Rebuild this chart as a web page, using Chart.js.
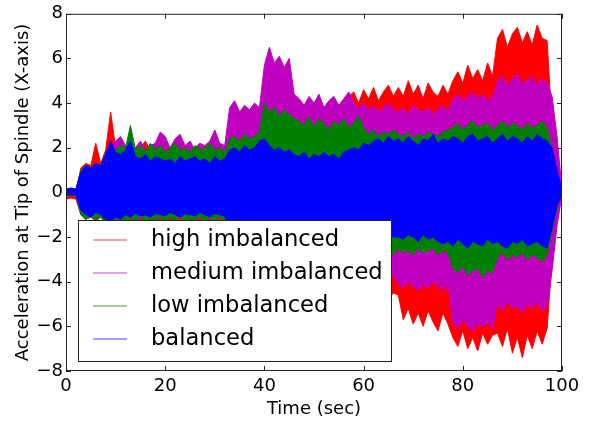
<!DOCTYPE html>
<html>
<head>
<meta charset="utf-8">
<script src="https://cdn.jsdelivr.net/npm/chart.js@4/dist/chart.umd.min.js"></script>
<style>
html, body { margin: 0; padding: 0; background: #fff; }
canvas { display: block; }
</style>
</head>
<body>
<canvas id="myChart" width="591" height="423"></canvas>
<script>
const seriesNames = ["high imbalanced", "medium imbalanced", "low imbalanced", "balanced"];
const seriesColors = ["#ff0000", "#bf00bf", "#008000", "#0000ff"];
const xTicks = [0, 20, 40, 60, 80, 100];
const yTicks = [-8, -6, -4, -2, 0, 2, 4, 6, 8];

// one envelope sample per second, 0..100 s
const time = Array.from({ length: 101 }, (_, i) => i);

// peak (upper) and trough (lower) of each signal
const highUpper = [
  0.0, 0.05, 0.0, 1.1, 1.3, 1.2, 2.2, 1.3, 1.9, 3.6,
  2.0, 2.1, 1.9, 2.2, 1.8, 2.0, 2.3, 1.9, 2.0, 1.8,
  2.1, 1.9, 2.0, 1.8, 2.1, 1.9, 2.0, 2.2, 1.8, 2.0,
  1.9, 2.1, 1.9, 3.3, 3.6, 3.4, 3.5, 3.3, 3.6, 3.4,
  3.8, 4.0, 3.7, 3.9, 3.8, 3.6, 3.9, 3.7, 3.5, 3.8,
  3.6, 3.7, 3.5, 3.8, 3.6, 3.9, 4.0, 4.3, 4.5, 4.0,
  4.6, 4.2, 4.7, 4.1, 4.5, 4.8, 4.3, 4.7, 4.3, 5.0,
  4.4, 4.8, 4.2, 4.9, 4.5, 4.3, 4.8, 4.4, 5.0, 5.4,
  4.9, 5.7, 5.1, 5.5, 5.0, 5.8, 5.2, 6.9, 7.3, 6.5,
  7.1, 7.4, 6.7, 7.2, 6.6, 7.5, 6.9, 6.8, 3.0, 0.8,
  0.1
];
const highLower = [
  -0.3, -0.25, -0.3, -1.0, -1.2, -1.1, -1.3, -1.1, -1.1, -1.4,
  -1.05, -1.3, -1.1, -1.45, -1.0, -1.35, -1.1, -1.4, -1.05, -1.3,
  -1.15, -1.4, -1.0, -1.35, -1.1, -1.3, -1.05, -1.4, -1.1, -1.35,
  -1.0, -1.3, -1.1, -3.4, -3.7, -3.5, -3.6, -3.4, -3.7, -3.5,
  -3.9, -4.0, -3.8, -4.1, -3.9, -3.7, -4.0, -3.8, -3.6, -3.9,
  -3.7, -3.8, -3.6, -3.9, -3.7, -4.0, -4.1, -4.3, -4.5, -4.2,
  -4.6, -4.4, -4.7, -4.3, -4.6, -4.8, -4.5, -4.6, -5.7, -5.2,
  -5.9, -5.4, -6.0, -5.3, -5.8, -6.2, -5.4, -5.9, -6.5, -6.9,
  -6.2, -7.0, -6.5, -7.1, -6.3, -6.8, -6.4, -6.3, -6.9, -6.1,
  -7.2, -6.5, -7.4, -6.4, -7.0, -6.2, -6.8, -6.1, -3.0, -0.8,
  -0.1
];
const mediumUpper = [
  0.1, 0.1, 0.1, 1.0, 1.2, 1.1, 1.2, 1.1, 1.8, 2.0,
  2.3, 2.5, 2.1, 2.2, 2.0, 2.3, 1.9, 2.1, 2.2, 2.7,
  2.5, 2.0, 2.4, 2.6, 2.1, 2.3, 1.9, 2.2, 2.1, 2.3,
  2.8, 2.2, 2.1, 3.8, 4.1, 3.6, 3.9, 3.7, 4.0, 3.8,
  5.7, 6.5, 5.8, 6.1, 5.6, 6.0, 4.4, 4.2, 3.9, 4.3,
  4.0, 4.4, 3.8, 4.1, 4.3, 3.9, 4.2, 4.5, 4.0, 3.8,
  4.0, 3.7, 3.9, 3.6, 3.8, 4.0, 3.7, 3.6, 3.8, 3.5,
  3.9, 3.7, 3.6, 3.8, 3.5, 3.7, 3.9, 3.6, 4.2, 4.4,
  4.1, 4.3, 4.5, 4.2, 4.4, 4.1, 4.3, 5.0, 5.2, 4.8,
  5.1, 5.3, 4.9, 5.0, 5.2, 4.8, 5.1, 4.9, 4.3, 2.5,
  0.1
];
const mediumLower = [
  -0.1, -0.1, -0.1, -1.0, -1.2, -1.1, -1.2, -1.1, -1.3, -1.05,
  -1.4, -1.1, -1.3, -1.0, -1.45, -1.1, -1.35, -1.05, -1.4, -1.1,
  -1.3, -1.05, -1.4, -1.0, -1.35, -1.1, -1.45, -1.05, -1.3, -1.1,
  -1.4, -1.05, -1.35, -3.7, -4.0, -3.6, -3.9, -3.8, -4.1, -3.7,
  -6.0, -6.3, -5.8, -6.1, -5.9, -6.2, -4.3, -4.1, -3.9, -4.2,
  -4.0, -4.3, -3.8, -4.1, -4.2, -3.9, -4.1, -4.3, -4.0, -3.8,
  -4.0, -3.7, -3.9, -3.6, -3.8, -3.9, -3.7, -4.1, -4.3, -4.0,
  -4.2, -4.4, -4.1, -4.3, -4.0, -4.2, -4.4, -4.1, -5.8, -6.1,
  -5.7, -6.0, -6.2, -5.9, -6.0, -5.8, -6.1, -5.0, -5.3, -4.9,
  -5.2, -5.1, -5.4, -5.0, -5.2, -4.9, -5.3, -5.1, -3.5, -1.5,
  -0.1
];
const lowUpper = [
  0.1, 0.15, 0.1, 1.0, 1.2, 1.1, 1.3, 1.2, 1.8, 2.0,
  1.9, 2.1, 2.0, 3.0, 1.9, 2.1, 1.8, 2.2, 1.9, 2.1,
  1.8, 2.0, 2.2, 1.9, 2.0, 1.8, 2.1, 1.9, 2.0, 2.2,
  1.9, 2.0, 1.8, 2.4, 2.5, 2.3, 2.6, 2.4, 2.5, 2.7,
  4.0, 3.6, 3.8, 3.4, 3.7, 3.5, 3.3, 3.2, 3.0, 3.4,
  2.9, 3.3, 3.1, 2.8, 3.2, 3.0, 3.3, 2.9, 3.1, 3.4,
  2.9, 2.6, 2.8, 2.5, 2.7, 2.6, 2.8, 2.6, 2.5, 2.7,
  2.4, 2.6, 2.5, 2.7, 2.6, 2.5, 2.7, 2.8, 2.9, 3.1,
  2.8, 3.0, 3.2, 2.9, 3.0, 3.1, 2.8, 3.0, 3.2, 2.9,
  3.1, 3.0, 2.8, 3.1, 2.9, 3.0, 3.2, 2.9, 2.0, 0.8,
  0.1
];
const lowLower = [
  -0.1, -0.15, -0.1, -1.0, -1.2, -1.1, -1.2, -1.1, -1.4, -1.1,
  -1.3, -1.05, -1.4, -1.1, -1.35, -1.0, -1.4, -1.15, -1.3, -1.05,
  -1.45, -1.1, -1.3, -1.0, -1.4, -1.15, -1.35, -1.05, -1.4, -1.1,
  -1.3, -1.05, -1.4, -2.5, -2.6, -2.4, -2.7, -2.5, -2.6, -2.8,
  -3.8, -3.5, -3.7, -3.4, -3.6, -3.5, -3.2, -3.0, -3.3, -2.9,
  -3.1, -3.2, -2.8, -3.1, -3.0, -3.2, -2.9, -3.1, -3.3, -2.9,
  -2.8, -2.7, -2.9, -2.6, -2.8, -2.7, -2.8, -2.5, -2.7, -2.6,
  -2.8, -2.5, -2.7, -2.6, -2.5, -2.8, -2.6, -2.7, -3.4, -3.6,
  -3.3, -3.7, -3.5, -3.4, -3.8, -3.5, -3.6, -2.9, -2.7, -3.0,
  -2.8, -2.9, -2.7, -3.0, -2.8, -2.9, -3.1, -2.8, -1.8, -0.7,
  -0.1
];
const balancedUpper = [
  0.15, 0.2, 0.15, 0.9, 1.2, 1.1, 1.3, 1.2, 1.7, 2.3,
  1.8, 1.7, 1.9, 2.3, 1.6, 1.5, 1.7, 1.4, 1.6, 1.5,
  1.4, 1.5, 1.3, 1.6, 1.4, 1.5, 1.6, 1.4, 1.5, 1.3,
  1.6, 1.4, 1.5, 1.9, 2.0, 1.8, 2.1, 1.9, 2.0, 2.3,
  2.4, 2.1, 1.9, 2.0, 1.8, 1.9, 1.7, 1.6, 1.8, 1.5,
  1.7, 1.6, 1.8, 1.6, 1.7, 1.5, 1.8, 1.9, 2.0, 1.9,
  2.2, 2.1, 2.3, 2.4, 2.2, 2.5, 2.3, 2.4, 2.2, 2.5,
  2.3, 2.1, 2.4, 2.3, 2.6, 2.2, 2.4, 2.3, 2.5, 2.4,
  2.2, 2.5, 2.6, 2.3, 2.4, 2.5, 2.2, 2.4, 2.6, 2.3,
  2.5, 2.4, 2.2, 2.5, 2.3, 2.6, 2.4, 2.3, 2.0, 1.0,
  0.1
];
const balancedLower = [
  -0.1, -0.12, -0.1, -0.8, -1.0, -1.1, -0.9, -1.0, -1.2, -1.3,
  -1.1, -1.2, -1.0, -1.1, -0.95, -1.05, -1.0, -1.1, -0.95, -1.0,
  -1.05, -0.9, -1.0, -1.1, -0.95, -1.0, -1.05, -0.9, -1.0, -1.1,
  -0.95, -1.0, -1.05, -1.9, -2.0, -1.8, -2.1, -1.9, -2.0, -2.2,
  -2.3, -2.1, -1.9, -2.0, -1.8, -1.9, -1.7, -1.6, -1.8, -1.5,
  -1.7, -1.6, -1.8, -1.6, -1.7, -1.5, -1.8, -1.9, -2.0, -1.9,
  -2.2, -2.1, -2.0, -2.2, -2.1, -1.9, -2.0, -2.0, -2.1, -1.9,
  -2.0, -2.2, -1.9, -2.1, -2.0, -2.2, -2.3, -2.2, -2.4, -2.1,
  -2.3, -2.5, -2.2, -2.3, -2.4, -2.1, -2.3, -2.2, -2.4, -2.5,
  -2.2, -2.3, -2.1, -2.4, -2.3, -2.2, -2.4, -2.5, -1.6, -0.6,
  -0.1
];

const envelopes = [
  [highUpper, highLower],
  [mediumUpper, mediumLower],
  [lowUpper, lowLower],
  [balancedUpper, balancedLower]
];

const datasets = [];
envelopes.forEach(([up, lo], k) => {
  // upper edge, filled down to the lower edge (next dataset)
  datasets.push({
    label: seriesNames[k],
    data: time.map((t, i) => ({ x: t, y: up[i] })),
    borderColor: seriesColors[k],
    backgroundColor: seriesColors[k],
    borderWidth: 1,
    pointRadius: 0,
    tension: 0,
    fill: '+1',
    order: 4 - k
  });
  datasets.push({
    label: '',
    data: time.map((t, i) => ({ x: t, y: lo[i] })),
    borderColor: seriesColors[k],
    backgroundColor: seriesColors[k],
    borderWidth: 1,
    pointRadius: 0,
    tension: 0,
    fill: false,
    order: 4 - k
  });
});

const fontFamily = '"DejaVu Sans", sans-serif';

// box, inward tick marks and the legend, drawn like the matplotlib figure
const framePlugin = {
  id: 'frame',
  afterDatasetsDraw(chart) {
    const { ctx, chartArea: a, scales: { x, y } } = chart;
    ctx.save();
    ctx.strokeStyle = '#222';
    ctx.lineWidth = 1;
    ctx.strokeRect(a.left + 0.5, a.top + 0.5, a.right - a.left - 1, a.bottom - a.top - 1);
    ctx.beginPath();
    xTicks.forEach(v => {
      const px = Math.round(x.getPixelForValue(v)) + 0.5;
      ctx.moveTo(px, a.bottom); ctx.lineTo(px, a.bottom - 5);
      ctx.moveTo(px, a.top); ctx.lineTo(px, a.top + 5);
    });
    yTicks.forEach(v => {
      const py = Math.round(y.getPixelForValue(v)) + 0.5;
      ctx.moveTo(a.left, py); ctx.lineTo(a.left + 5, py);
      ctx.moveTo(a.right, py); ctx.lineTo(a.right - 5, py);
    });
    ctx.stroke();

    // legend
    const bx = a.left + 12, bw = 313, bh = 141;
    const by = a.bottom - 10 - bh;
    ctx.fillStyle = '#fff';
    ctx.fillRect(bx, by, bw, bh);
    ctx.strokeRect(bx + 0.5, by + 0.5, bw, bh);
    ctx.font = '22.6px ' + fontFamily;
    ctx.textBaseline = 'middle';
    ctx.textAlign = 'left';
    seriesNames.forEach((name, k) => {
      const ry = Math.round(by + 20 + k * 33);
      ctx.strokeStyle = seriesColors[k];
      ctx.globalAlpha = 0.75;
      ctx.beginPath();
      ctx.moveTo(bx + 15, ry);
      ctx.lineTo(bx + 49, ry);
      ctx.stroke();
      ctx.globalAlpha = 1;
      ctx.fillStyle = '#000';
      ctx.fillText(name, bx + 73, ry);
    });
    ctx.restore();
  }
};

const minus = v => (v < 0 ? '\u2212' + Math.abs(v) : String(v));

const ctx = document.getElementById('myChart');
const myChart = new Chart(ctx, {
  type: 'line',
  data: { datasets: datasets },
  options: {
    responsive: false,
    animation: false,
    devicePixelRatio: 1,
    layout: { padding: { left: 0, right: 29, top: 13, bottom: 0 } },
    plugins: {
      legend: { display: false },
      tooltip: { enabled: false },
      filler: { propagate: false }
    },
    scales: {
      x: {
        type: 'linear',
        min: 0,
        max: 100,
        afterBuildTicks: s => { s.ticks = xTicks.map(v => ({ value: v })); },
        afterFit: s => { s.height = 52; },
        grid: { display: false, drawTicks: false },
        border: { display: false },
        ticks: {
          color: '#000',
          font: { family: fontFamily, size: 18 },
          padding: 5,
          maxRotation: 0,
          autoSkip: false,
          callback: v => minus(v)
        },
        title: {
          display: true,
          text: 'Time (sec)',
          color: '#000',
          font: { family: fontFamily, size: 18 },
          padding: { top: 0, bottom: 3 }
        }
      },
      y: {
        min: -8,
        max: 8,
        afterBuildTicks: s => { s.ticks = yTicks.map(v => ({ value: v })); },
        afterFit: s => { s.width = 66; },
        grid: { display: false, drawTicks: false },
        border: { display: false },
        ticks: {
          color: '#000',
          font: { family: fontFamily, size: 18 },
          padding: 3,
          autoSkip: false,
          callback: v => minus(v)
        },
        title: {
          display: true,
          text: 'Acceleration at Tip of Spindle (X-axis)',
          color: '#000',
          font: { family: fontFamily, size: 18 },
          padding: { top: 13, bottom: 0 }
        }
      }
    }
  },
  plugins: [framePlugin]
});
</script>
</body>
</html>
